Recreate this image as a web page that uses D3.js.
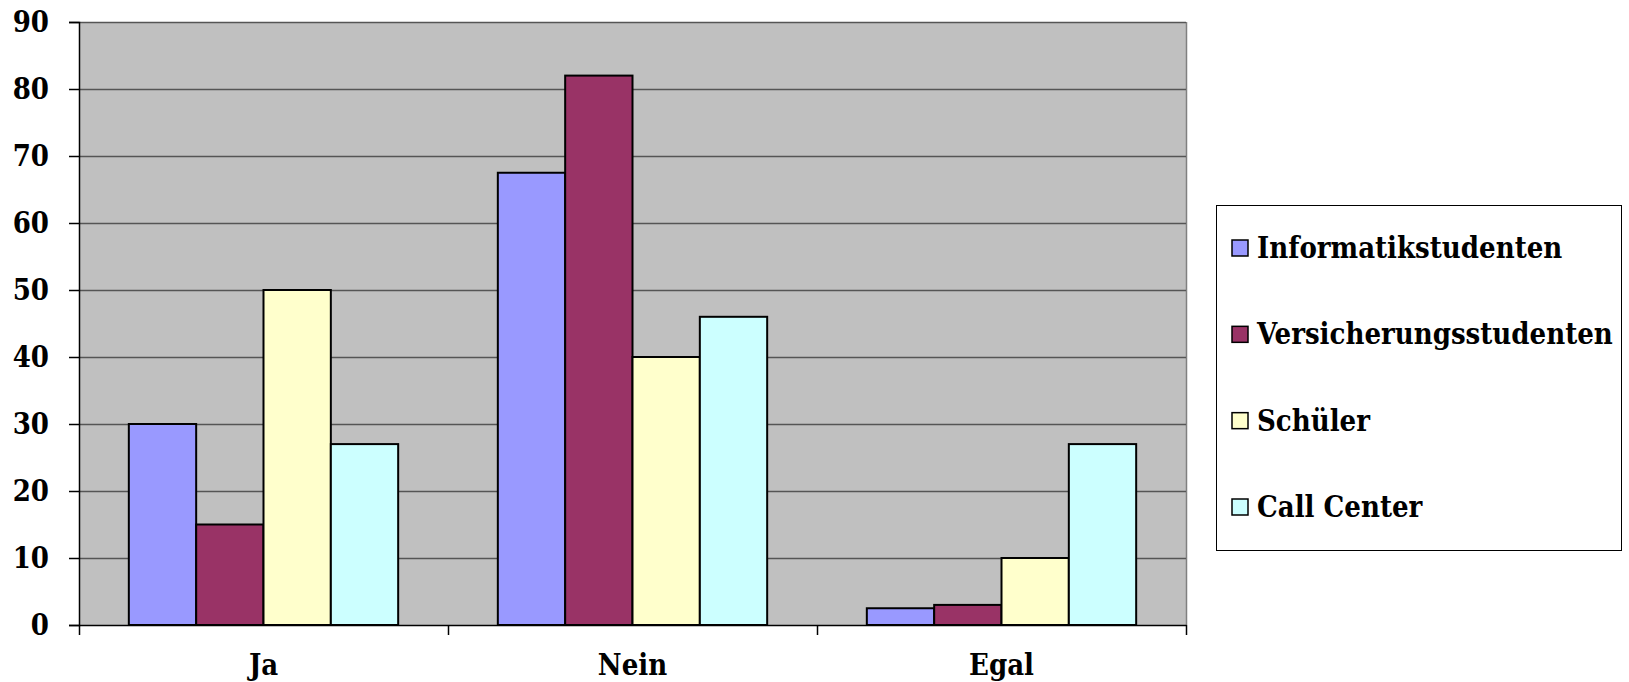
<!DOCTYPE html>
<html>
<head>
<meta charset="utf-8">
<script src="https://cdn.jsdelivr.net/npm/d3@7"></script>
<style>
  html, body { margin: 0; padding: 0; background: #fff; }
  svg { display: block; }
  text { font-family: "DejaVu Serif Condensed", "DejaVu Serif", serif; font-stretch: condensed; font-weight: bold; fill: #000; }
</style>
</head>
<body>
<svg id="chart" width="1629" height="682"></svg>
<script>
// Answers per group
const categories = ["Ja", "Nein", "Egal"];
const seriesNames = ["Informatikstudenten", "Versicherungsstudenten", "Schüler", "Call Center"];
const seriesColors = ["#9999ff", "#993366", "#ffffcc", "#ccffff"];
const informatik = [30, 67.5, 2.5];
const versicherung = [15, 82, 3];
const schueler = [50, 40, 10];
const callCenter = [27, 46, 27];
const yTicks = [0, 10, 20, 30, 40, 50, 60, 70, 80, 90];

const seriesValues = [informatik, versicherung, schueler, callCenter];
const fontStack = "'DejaVu Serif Condensed', 'DejaVu Serif', serif";

const svg = d3.select("#chart");
const plot = { left: 79, right: 1186, top: 22, bottom: 625 };

const x0 = d3.scaleBand().domain(categories).range([plot.left, plot.right]).paddingInner(0).paddingOuter(0);
const x1 = d3.scaleBand().domain(seriesNames).range([0, x0.bandwidth()]).paddingOuter(0.74).paddingInner(0);
const y = d3.scaleLinear().domain([0, 90]).range([plot.bottom, plot.top]);

// plot area background
svg.append("rect")
  .attr("x", plot.left).attr("y", plot.top)
  .attr("width", plot.right - plot.left).attr("height", plot.bottom - plot.top)
  .attr("fill", "#c0c0c0");

// right border of plot area
svg.append("line")
  .attr("x1", plot.right + 0.5).attr("x2", plot.right + 0.5)
  .attr("y1", plot.top).attr("y2", plot.bottom)
  .attr("stroke", "#808080").attr("stroke-width", 1.5);

// horizontal gridlines
svg.append("g").selectAll("line")
  .data(yTicks.filter(d => d > 0))
  .join("line")
  .attr("x1", plot.left).attr("x2", plot.right)
  .attr("y1", d => Math.round(y(d)) + 0.5).attr("y2", d => Math.round(y(d)) + 0.5)
  .attr("stroke", "#555").attr("stroke-width", 1.5);

// y axis
const yAxis = d3.axisLeft(y).tickValues(yTicks).tickSize(10).tickPadding(20);
const gy = svg.append("g").attr("transform", `translate(${plot.left},0)`).call(yAxis);
gy.select(".domain").attr("stroke", "#000").attr("stroke-width", 1.5);
gy.selectAll(".tick line").attr("stroke", "#000").attr("stroke-width", 1.5);
gy.selectAll(".tick text")
  .style("font-family", fontStack).style("font-weight", "bold")
  .style("font-size", "29px").attr("fill", "#000");

// bars
const groups = svg.append("g").selectAll("g")
  .data(categories)
  .join("g")
  .attr("transform", d => `translate(${x0(d)},0)`);

groups.selectAll("rect")
  .data((c, i) => seriesNames.map((s, k) => ({ s, k, v: seriesValues[k][i] })))
  .join("rect")
  .attr("x", d => x1(d.s))
  .attr("y", d => y(d.v))
  .attr("width", x1.bandwidth())
  .attr("height", d => y(0) - y(d.v))
  .attr("fill", d => seriesColors[d.k])
  .attr("stroke", "#000")
  .attr("stroke-width", 2);

// x axis
const xAxis = d3.axisBottom(x0).tickSize(0).tickPadding(0);
const gx = svg.append("g").attr("transform", `translate(0,${plot.bottom})`).call(xAxis);
gx.select(".domain").attr("stroke", "#000").attr("stroke-width", 1.5);
gx.selectAll(".tick text")
  .attr("y", 50).attr("dy", null)
  .style("font-family", fontStack).style("font-weight", "bold")
  .style("font-size", "29px").attr("fill", "#000");

// category separators below the axis
svg.append("g").selectAll("line")
  .data(categories.map(c => x0(c)).concat([plot.right]))
  .join("line")
  .attr("x1", d => d + 0.5).attr("x2", d => d + 0.5)
  .attr("y1", plot.bottom).attr("y2", plot.bottom + 10)
  .attr("stroke", "#000").attr("stroke-width", 1.5);

// legend
const legend = svg.append("g");
legend.append("rect")
  .attr("x", 1216.5).attr("y", 205.5).attr("width", 405).attr("height", 345)
  .attr("fill", "#fff").attr("stroke", "#000").attr("stroke-width", 1);

const rowY = d3.scalePoint().domain(seriesNames).range([248, 507]);
const items = legend.selectAll("g.item")
  .data(seriesNames)
  .join("g").attr("class", "item")
  .attr("transform", d => `translate(1232,${rowY(d)})`);
items.append("rect")
  .attr("x", 0).attr("y", -8).attr("width", 16).attr("height", 16)
  .attr("fill", (d, i) => seriesColors[i]).attr("stroke", "#000").attr("stroke-width", 1.5);
items.append("text")
  .attr("x", 25).attr("y", 0).attr("dy", "0.35em")
  .style("font-size", "29px")
  .text(d => d);
</script>
</body>
</html>
